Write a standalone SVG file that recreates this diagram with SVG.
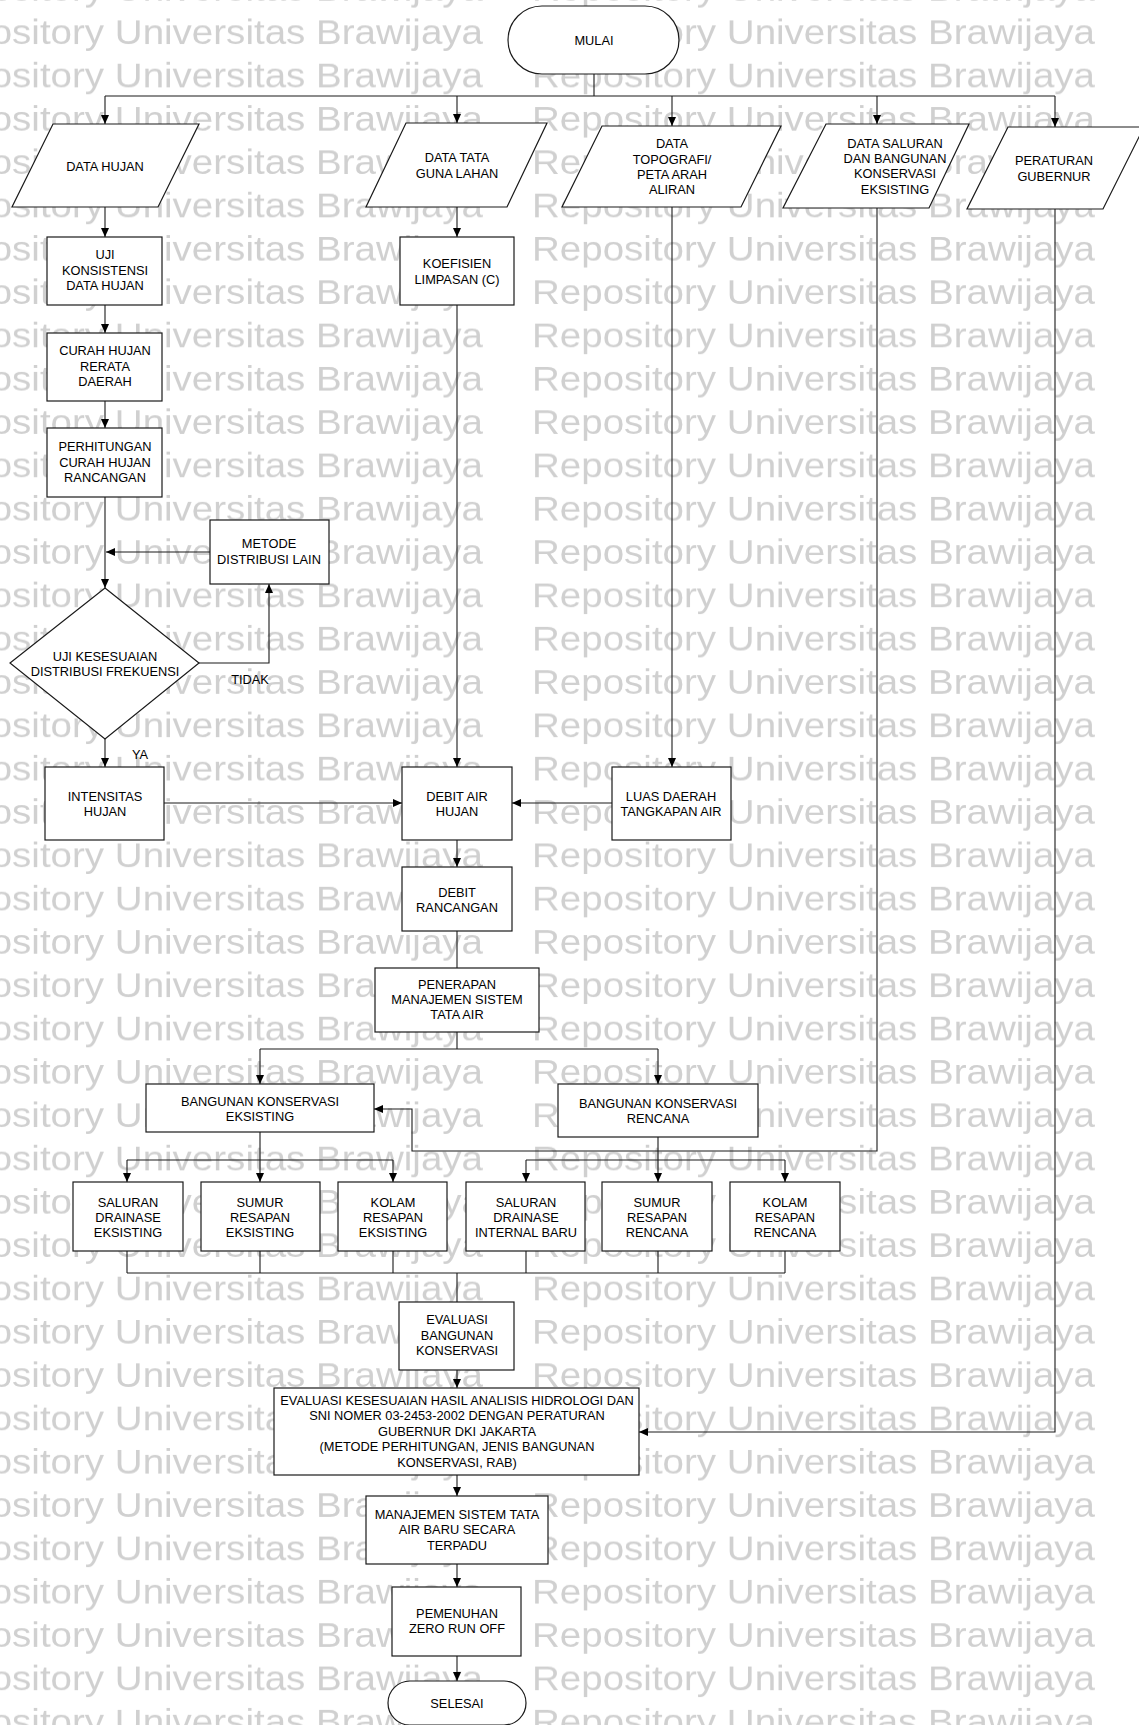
<svg xmlns="http://www.w3.org/2000/svg" width="1139" height="1725" viewBox="0 0 1139 1725">
<style>
.n{fill:#fff;stroke:#1a1a1a;stroke-width:1.2}
.c{fill:none;stroke:#1a1a1a;stroke-width:1.1}
.a{marker-end:url(#ah)}
.t{font-family:"Liberation Sans",Arial,sans-serif;font-size:12.8px;text-anchor:middle;fill:#000}
.wm{font-family:"Liberation Sans",Arial,sans-serif;font-size:34px;fill:#d0d0d0}
</style>
<defs>
<marker id="ah" markerWidth="10" markerHeight="10" refX="9" refY="5" orient="auto" markerUnits="userSpaceOnUse"><path d="M0,1 L9,5 L0,9 z" fill="#000"/></marker>
<pattern id="wmp" x="-80" y="8.6" width="612" height="43.32" patternUnits="userSpaceOnUse"><text class="wm" x="0" y="35" textLength="563" lengthAdjust="spacingAndGlyphs">Repository Universitas Brawijaya</text></pattern>
</defs>
<rect x="0" y="0" width="1139" height="1725" fill="#fff"/>
<rect id="watermark" x="0" y="0" width="1139" height="1725" fill="url(#wmp)"/>

<g id="connectors">
<path class="c" d="M594,74 V96 M105,96 H1055"/>
<path class="c a" d="M105,96 V124"/>
<path class="c a" d="M457,96 V123"/>
<path class="c a" d="M672,96 V126"/>
<path class="c a" d="M877,96 V124"/>
<path class="c a" d="M1055,96 V127"/>
<path class="c a" d="M105,207 V237"/>
<path class="c a" d="M105,305 V333"/>
<path class="c a" d="M105,401 V428"/>
<path class="c a" d="M105,497 V588"/>
<path class="c a" d="M210,552 H106"/>
<path class="c a" d="M199,663 H269 V584"/>
<path class="c a" d="M105,739 V767"/>
<path class="c a" d="M164,803 H402"/>
<path class="c a" d="M457,207 V237"/>
<path class="c a" d="M457,305 V767"/>
<path class="c a" d="M672,207 V767"/>
<path class="c a" d="M612,803 H512"/>
<path class="c a" d="M457,840 V867"/>
<path class="c" d="M457,931 V968"/>
<path class="c" d="M457,1032 V1049 M260,1049 H658"/>
<path class="c a" d="M260,1049 V1084"/>
<path class="c a" d="M658,1049 V1084"/>
<path class="c" d="M260,1132 V1160 M127,1160 H393"/>
<path class="c a" d="M127,1160 V1182"/>
<path class="c a" d="M260,1160 V1182"/>
<path class="c a" d="M393,1160 V1182"/>
<path class="c" d="M658,1137 V1160 M526,1160 H785"/>
<path class="c a" d="M526,1160 V1182"/>
<path class="c a" d="M658,1160 V1182"/>
<path class="c a" d="M785,1160 V1182"/>
<path class="c a" d="M877,208 V1151 H412 V1109 H374"/>
<path class="c" d="M127,1251 V1273 M260,1251 V1273 M393,1251 V1273 M526,1251 V1273 M658,1251 V1273 M785,1251 V1273 M127,1273 H785 M457,1273 V1302"/>
<path class="c a" d="M457,1370 V1388"/>
<path class="c a" d="M1055,209 V1432 H639"/>
<path class="c a" d="M457,1475 V1496"/>
<path class="c a" d="M457,1564 V1587"/>
<path class="c a" d="M457,1656 V1681"/>
<text class="t" x="250" y="683.6">TIDAK</text>
<text class="t" x="140" y="758.6">YA</text>
</g>

<g id="mulai"><rect class="n" x="508" y="6" width="171" height="68" rx="34"/><text class="t" x="594" y="44.6">MULAI</text></g>
<g id="data-hujan"><polygon class="n" points="53,124 199,124 158,207 12,207"/><text class="t" x="105" y="170.6">DATA HUJAN</text></g>
<g id="data-tata-guna-lahan"><polygon class="n" points="406,123 547,123 507,207 366,207"/><text class="t" x="457" y="161.6">DATA TATA</text><text class="t" x="457" y="177.6">GUNA LAHAN</text></g>
<g id="data-topografi"><polygon class="n" points="602,126 781,126 741,207 562,207"/><text class="t" x="672" y="147.6">DATA</text><text class="t" x="672" y="163.6">TOPOGRAFI/</text><text class="t" x="672" y="178.6">PETA ARAH</text><text class="t" x="672" y="193.6">ALIRAN</text></g>
<g id="data-saluran"><polygon class="n" points="826,124 969,124 929,208 783,208"/><text class="t" x="895" y="147.6">DATA SALURAN</text><text class="t" x="895" y="162.6">DAN BANGUNAN</text><text class="t" x="895" y="177.6">KONSERVASI</text><text class="t" x="895" y="193.6">EKSISTING</text></g>
<g id="peraturan-gubernur"><polygon class="n" points="1008,127 1144,127 1103,209 967,209"/><text class="t" x="1054" y="164.6">PERATURAN</text><text class="t" x="1054" y="180.6">GUBERNUR</text></g>
<g id="uji-konsistensi"><rect class="n" x="47" y="237" width="115" height="68"/><text class="t" x="105" y="258.6">UJI</text><text class="t" x="105" y="274.6">KONSISTENSI</text><text class="t" x="105" y="289.6">DATA HUJAN</text></g>
<g id="curah-hujan-rerata"><rect class="n" x="47" y="333" width="115" height="68"/><text class="t" x="105" y="354.6">CURAH HUJAN</text><text class="t" x="105" y="370.6">RERATA</text><text class="t" x="105" y="385.6">DAERAH</text></g>
<g id="perhitungan"><rect class="n" x="47" y="428" width="115" height="69"/><text class="t" x="105" y="450.6">PERHITUNGAN</text><text class="t" x="105" y="466.6">CURAH HUJAN</text><text class="t" x="105" y="481.6">RANCANGAN</text></g>
<g id="koefisien"><rect class="n" x="400" y="237" width="114" height="68"/><text class="t" x="457" y="267.6">KOEFISIEN</text><text class="t" x="457" y="283.6">LIMPASAN (C)</text></g>
<g id="metode-distribusi"><rect class="n" x="210" y="520" width="119" height="64"/><text class="t" x="269" y="547.6">METODE</text><text class="t" x="269" y="563.6">DISTRIBUSI LAIN</text></g>
<g id="uji-kesesuaian"><polygon class="n" points="105,588 199,663 105,739 10,663"/><text class="t" x="105" y="660.6">UJI KESESUAIAN</text><text class="t" x="105" y="675.6">DISTRIBUSI FREKUENSI</text></g>
<g id="intensitas-hujan"><rect class="n" x="45" y="767" width="119" height="73"/><text class="t" x="105" y="800.6">INTENSITAS</text><text class="t" x="105" y="815.6">HUJAN</text></g>
<g id="debit-air-hujan"><rect class="n" x="402" y="767" width="110" height="73"/><text class="t" x="457" y="800.6">DEBIT AIR</text><text class="t" x="457" y="815.6">HUJAN</text></g>
<g id="luas-daerah"><rect class="n" x="612" y="767" width="119" height="73"/><text class="t" x="671" y="800.6">LUAS DAERAH</text><text class="t" x="671" y="815.6">TANGKAPAN AIR</text></g>
<g id="debit-rancangan"><rect class="n" x="402" y="867" width="110" height="64"/><text class="t" x="457" y="896.6">DEBIT</text><text class="t" x="457" y="911.6">RANCANGAN</text></g>
<g id="penerapan"><rect class="n" x="375" y="968" width="164" height="64"/><text class="t" x="457" y="988.6">PENERAPAN</text><text class="t" x="457" y="1003.6">MANAJEMEN SISTEM</text><text class="t" x="457" y="1018.6">TATA AIR</text></g>
<g id="bangunan-eksisting"><rect class="n" x="146" y="1084" width="228" height="48"/><text class="t" x="260" y="1105.6">BANGUNAN KONSERVASI</text><text class="t" x="260" y="1120.6">EKSISTING</text></g>
<g id="bangunan-rencana"><rect class="n" x="558" y="1084" width="200" height="53"/><text class="t" x="658" y="1107.6">BANGUNAN KONSERVASI</text><text class="t" x="658" y="1122.6">RENCANA</text></g>
<g id="saluran-eksisting"><rect class="n" x="73" y="1182" width="110" height="69"/><text class="t" x="128" y="1206.6">SALURAN</text><text class="t" x="128" y="1221.6">DRAINASE</text><text class="t" x="128" y="1236.6">EKSISTING</text></g>
<g id="sumur-eksisting"><rect class="n" x="201" y="1182" width="119" height="69"/><text class="t" x="260" y="1206.6">SUMUR</text><text class="t" x="260" y="1221.6">RESAPAN</text><text class="t" x="260" y="1236.6">EKSISTING</text></g>
<g id="kolam-eksisting"><rect class="n" x="338" y="1182" width="109" height="69"/><text class="t" x="393" y="1206.6">KOLAM</text><text class="t" x="393" y="1221.6">RESAPAN</text><text class="t" x="393" y="1236.6">EKSISTING</text></g>
<g id="saluran-internal"><rect class="n" x="466" y="1182" width="119" height="69"/><text class="t" x="526" y="1206.6">SALURAN</text><text class="t" x="526" y="1221.6">DRAINASE</text><text class="t" x="526" y="1236.6">INTERNAL BARU</text></g>
<g id="sumur-rencana"><rect class="n" x="602" y="1182" width="110" height="69"/><text class="t" x="657" y="1206.6">SUMUR</text><text class="t" x="657" y="1221.6">RESAPAN</text><text class="t" x="657" y="1236.6">RENCANA</text></g>
<g id="kolam-rencana"><rect class="n" x="730" y="1182" width="110" height="69"/><text class="t" x="785" y="1206.6">KOLAM</text><text class="t" x="785" y="1221.6">RESAPAN</text><text class="t" x="785" y="1236.6">RENCANA</text></g>
<g id="evaluasi-bangunan"><rect class="n" x="399" y="1302" width="115" height="68"/><text class="t" x="457" y="1323.6">EVALUASI</text><text class="t" x="457" y="1339.6">BANGUNAN</text><text class="t" x="457" y="1354.6">KONSERVASI</text></g>
<g id="evaluasi-kesesuaian"><rect class="n" x="274" y="1388" width="365" height="87"/><text class="t" x="457" y="1404.6">EVALUASI KESESUAIAN HASIL ANALISIS HIDROLOGI DAN</text><text class="t" x="457" y="1419.6">SNI NOMER 03-2453-2002 DENGAN PERATURAN</text><text class="t" x="457" y="1435.6">GUBERNUR DKI JAKARTA</text><text class="t" x="457" y="1450.6">(METODE PERHITUNGAN, JENIS BANGUNAN</text><text class="t" x="457" y="1466.6">KONSERVASI, RAB)</text></g>
<g id="manajemen"><rect class="n" x="366" y="1496" width="182" height="68"/><text class="t" x="457" y="1518.6">MANAJEMEN SISTEM TATA</text><text class="t" x="457" y="1533.6">AIR BARU SECARA</text><text class="t" x="457" y="1549.6">TERPADU</text></g>
<g id="pemenuhan"><rect class="n" x="392" y="1587" width="129" height="69"/><text class="t" x="457" y="1617.6">PEMENUHAN</text><text class="t" x="457" y="1632.6">ZERO RUN OFF</text></g>
<g id="selesai"><rect class="n" x="388" y="1681" width="138" height="44" rx="22"/><text class="t" x="457" y="1707.6">SELESAI</text></g>
</svg>
